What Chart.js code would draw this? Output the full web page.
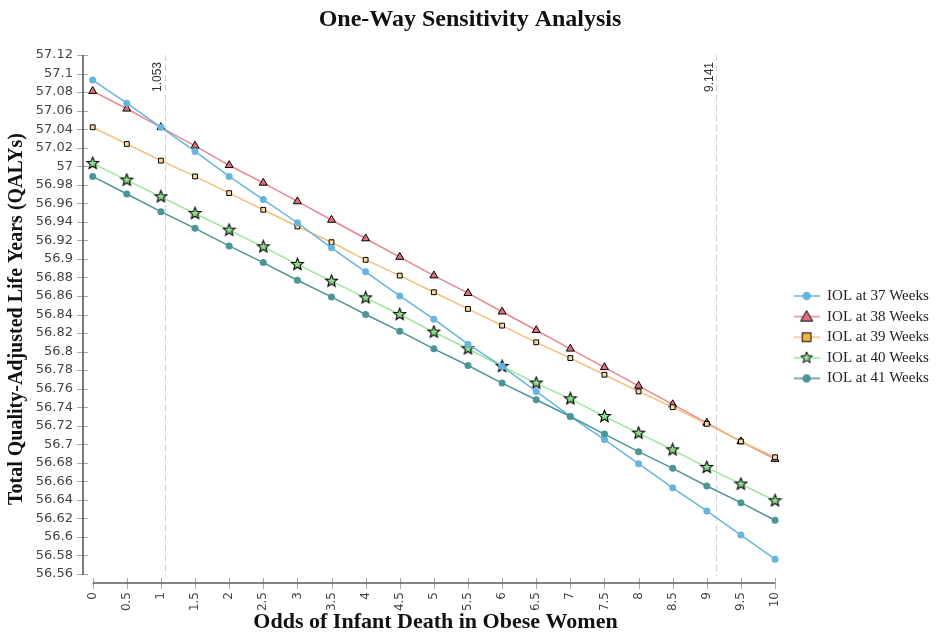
<!DOCTYPE html>
<html>
<head>
<meta charset="utf-8">
<script src="https://cdn.jsdelivr.net/npm/chart.js@4/dist/chart.umd.min.js"></script>
<style>
html,body{margin:0;padding:0;background:#fff;}
#wrap{width:940px;height:634px;position:relative;}
</style>
</head>
<body>
<div id="wrap"><canvas id="c" width="940" height="634"></canvas></div>
<script>
// ---------- DATA ----------
const xValues = [0,0.5,1,1.5,2,2.5,3,3.5,4,4.5,5,5.5,6,6.5,7,7.5,8,8.5,9,9.5,10];
const iol37 = [57.093,57.068,57.042,57.016,56.989,56.964,56.939,56.912,56.886,56.860,56.835,56.808,56.784,56.757,56.730,56.705,56.679,56.653,56.628,56.602,56.576];
const iol38 = [57.081,57.062,57.042,57.022,57.001,56.982,56.962,56.942,56.922,56.902,56.882,56.863,56.843,56.823,56.803,56.783,56.763,56.743,56.723,56.703,56.684];
const iol39 = [57.042,57.024,57.006,56.989,56.971,56.953,56.935,56.918,56.899,56.882,56.864,56.846,56.828,56.810,56.793,56.775,56.757,56.740,56.722,56.703,56.686];
const iol40 = [57.003,56.985,56.967,56.949,56.931,56.913,56.894,56.876,56.858,56.840,56.821,56.803,56.784,56.766,56.749,56.730,56.712,56.694,56.675,56.657,56.639];
const iol41 = [56.989,56.970,56.951,56.933,56.914,56.896,56.877,56.859,56.840,56.822,56.803,56.785,56.766,56.748,56.730,56.711,56.692,56.674,56.655,56.637,56.618];
const seriesNames = ['IOL at 37 Weeks','IOL at 38 Weeks','IOL at 39 Weeks','IOL at 40 Weeks','IOL at 41 Weeks'];
const xTickValues = [0,0.5,1,1.5,2,2.5,3,3.5,4,4.5,5,5.5,6,6.5,7,7.5,8,8.5,9,9.5,10];
const yTickValues = [56.56,56.58,56.6,56.62,56.64,56.66,56.68,56.7,56.72,56.74,56.76,56.78,56.8,56.82,56.84,56.86,56.88,56.9,56.92,56.94,56.96,56.98,57,57.02,57.04,57.06,57.08,57.1,57.12];
const thresholdValues = [1.053, 9.141];
const thresholdLabels = ['1.053', '9.141'];

// ---------- STYLE ----------
const C37 = '#66b5e0', C38L = '#e8878d', C38F = '#e0707a', C39L = '#f3bf78', C39F = '#f2b54a', C40L = '#9be59b', C40F = '#8fe08f', C41 = '#4b9597';

function starPath(g, cx, cy, R, r) {
  g.beginPath();
  for (let i = 0; i < 10; i++) {
    const a = -Math.PI / 2 + i * Math.PI / 5;
    const rad = (i % 2) ? r : R;
    g.lineTo(cx + rad * Math.cos(a), cy + rad * Math.sin(a));
  }
  g.closePath();
}
function makeStar(size, R, r) {
  const c = document.createElement('canvas');
  c.width = size; c.height = size;
  const g = c.getContext('2d');
  starPath(g, size / 2, size / 2, R, r);
  g.fillStyle = C40F; g.fill();
  g.strokeStyle = '#000'; g.lineWidth = 1.1; g.stroke();
  return c;
}
const starPoint = makeStar(15, 6.2, 2.7);

function makeIcon(lineColor, drawMarker) {
  const c = document.createElement('canvas');
  c.width = 26; c.height = 16;
  const g = c.getContext('2d');
  g.strokeStyle = lineColor; g.lineWidth = 1.5;
  g.beginPath(); g.moveTo(0, 8); g.lineTo(26, 8); g.stroke();
  drawMarker(g, 13, 8);
  return c;
}
const legendIcons = [
  makeIcon(C37, (g,x,y)=>{ g.beginPath(); g.arc(x,y,4.3,0,Math.PI*2); g.fillStyle=C37; g.fill(); }),
  makeIcon(C38L, (g,x,y)=>{ g.beginPath(); g.moveTo(x,y-6); g.lineTo(x+6,y+4.5); g.lineTo(x-6,y+4.5); g.closePath(); g.fillStyle=C38F; g.fill(); g.strokeStyle='#000'; g.lineWidth=1; g.stroke(); }),
  makeIcon(C39L, (g,x,y)=>{ g.fillStyle=C39F; g.fillRect(x-4.3,y-4.3,8.6,8.6); g.strokeStyle='#000'; g.lineWidth=1; g.strokeRect(x-4.3,y-4.3,8.6,8.6); }),
  makeIcon(C40L, (g,x,y)=>{ starPath(g,x,y,6,2.6); g.fillStyle=C40F; g.fill(); g.strokeStyle='#000'; g.lineWidth=1; g.stroke(); }),
  makeIcon(C41, (g,x,y)=>{ g.beginPath(); g.arc(x,y,4.3,0,Math.PI*2); g.fillStyle=C41; g.fill(); })
];

function pts(arr) { return xValues.map((x, i) => ({x: x, y: arr[i]})); }

const datasets = [
  {label: seriesNames[0], data: pts(iol37), borderColor: C37, backgroundColor: C37, pointStyle: 'circle', pointRadius: 3.5, pointBorderWidth: 0, pointBackgroundColor: C37, order: 2},
  {label: seriesNames[1], data: pts(iol38), borderColor: C38L, backgroundColor: C38F, pointStyle: 'triangle', pointRadius: 4.6, pointBorderWidth: 1, pointBorderColor: '#000', pointBackgroundColor: C38F, order: 5},
  {label: seriesNames[2], data: pts(iol39), borderColor: C39L, backgroundColor: C39F, pointStyle: 'rect', pointRadius: 3.4, pointBorderWidth: 1, pointBorderColor: '#000', pointBackgroundColor: '#f7d9a8', order: 4},
  {label: seriesNames[3], data: pts(iol40), borderColor: C40L, backgroundColor: C40F, pointStyle: starPoint, pointRadius: 6, order: 3},
  {label: seriesNames[4], data: pts(iol41), borderColor: C41, backgroundColor: C41, pointStyle: 'circle', pointRadius: 3.5, pointBorderWidth: 0, pointBackgroundColor: C41, order: 1}
];
datasets.forEach(d => { d.borderWidth = 1.5; d.fill = false; d.tension = 0; d.pointHoverRadius = d.pointRadius; });

// ---------- PLUGINS ----------
const LEGEND_W = 152;
const legendWidthPlugin = {
  id: 'legendWidth',
  afterInit(chart) {
    const lg = chart.legend;
    if (!lg) return;
    const f = lg.fit.bind(lg);
    lg.fit = function() { f(); this.width = LEGEND_W; };
  }
};

const axesPlugin = {
  id: 'd3axes',
  beforeDatasetsDraw(chart) {
    const ctx = chart.ctx, xs = chart.scales.x, ys = chart.scales.y, ca = chart.chartArea;
    const yTop = ys.getPixelForValue(yTickValues[yTickValues.length - 1]);
    const yBot = ys.getPixelForValue(yTickValues[0]);
    const x0 = xs.getPixelForValue(xTickValues[0]);
    const x1 = xs.getPixelForValue(xTickValues[xTickValues.length - 1]);
    ctx.save();
    // threshold dashed lines
    ctx.strokeStyle = '#cfcfcf'; ctx.lineWidth = 1; ctx.setLineDash([6, 4]);
    thresholdValues.forEach(v => {
      const px = Math.round(xs.getPixelForValue(v)) + 0.5;
      ctx.beginPath(); ctx.moveTo(px, ca.top); ctx.lineTo(px, yBot + 2); ctx.stroke();
    });
    ctx.setLineDash([]);
    ctx.fillStyle = '#333'; ctx.font = '12px "Liberation Sans", Arial, sans-serif';
    thresholdValues.forEach((v, i) => {
      const px = xs.getPixelForValue(v);
      ctx.save(); ctx.translate(px - 3.5, ca.top + 7); ctx.rotate(-Math.PI / 2);
      ctx.textAlign = 'right'; ctx.textBaseline = 'alphabetic';
      ctx.fillText(thresholdLabels[i], 0, 0); ctx.restore();
    });
    // tick marks
    ctx.strokeStyle = '#a8a8a8'; ctx.lineWidth = 1;
    yTickValues.forEach(v => {
      const py = Math.round(ys.getPixelForValue(v)) + 0.5;
      ctx.beginPath(); ctx.moveTo(ca.left - 6, py); ctx.lineTo(ca.left + 5, py); ctx.stroke();
    });
    xTickValues.forEach(v => {
      const px = Math.round(xs.getPixelForValue(v)) + 0.5;
      ctx.beginPath(); ctx.moveTo(px, ca.bottom - 5); ctx.lineTo(px, ca.bottom + 6); ctx.stroke();
    });
    // domain lines
    ctx.strokeStyle = '#5a5a5a'; ctx.lineWidth = 1.6;
    ctx.beginPath(); ctx.moveTo(ca.left, yTop); ctx.lineTo(ca.left, yBot + 1); ctx.stroke();
    ctx.beginPath(); ctx.moveTo(x0, ca.bottom); ctx.lineTo(x1, ca.bottom); ctx.stroke();
    ctx.restore();
  }
};

// ---------- CHART ----------
const yTickFont = {family: '"DejaVu Sans", Verdana, sans-serif', size: 13};
const xTickFont = {family: '"DejaVu Sans", Verdana, sans-serif', size: 12};
new Chart(document.getElementById('c').getContext('2d'), {
  type: 'line',
  data: {datasets: datasets},
  options: {
    responsive: false,
    animation: false,
    events: [],
    layout: {padding: 0},
    scales: {
      x: {
        type: 'linear', min: -0.142, max: 10.19,
        grid: {display: false, drawTicks: false},
        border: {display: false},
        afterBuildTicks: s => { s.ticks = xTickValues.map(v => ({value: v})); },
        afterFit: s => { s.height = 51; },
        ticks: {autoSkip: false, minRotation: 90, maxRotation: 90, padding: 9, font: xTickFont, color: '#444',
                callback: v => String(v)},
        title: {display: true, text: 'Odds of Infant Death in Obese Women', color: '#111',
                font: {family: '"Liberation Serif", "Times New Roman", serif', size: 22, weight: 'bold', lineHeight: 1.05},
                padding: {top: 0, bottom: 0}}
      },
      y: {
        type: 'linear', min: 56.5503, max: 57.12,
        grid: {display: false, drawTicks: false},
        border: {display: false},
        afterBuildTicks: s => { s.ticks = yTickValues.map(v => ({value: v})); },
        afterFit: s => { s.width = 83; },
        ticks: {autoSkip: false, padding: 10, font: yTickFont, color: '#444', callback: v => String(v)},
        title: {display: true, text: 'Total Quality-Adjusted Life Years (QALYs)', color: '#111',
                font: {family: '"Liberation Serif", "Times New Roman", serif', size: 20, weight: 'bold'},
                padding: {top: 5, bottom: 0}}
      }
    },
    plugins: {
      title: {display: true, text: 'One-Way Sensitivity Analysis', color: '#111',
              font: {family: '"Liberation Serif", "Times New Roman", serif', size: 24, weight: 'bold'},
              padding: {top: 5, bottom: 21.2}},
      legend: {
        display: true, position: 'right', align: 'center',
        title: {display: true, text: '', font: {size: 10}, padding: {top: 0, bottom: 28.4}},
        labels: {
          usePointStyle: true, pointStyleWidth: 26, padding: 5.6, color: '#222',
          font: {family: '"Liberation Serif", "Times New Roman", serif', size: 15},
          generateLabels: chart => chart.data.datasets.map((ds, i) => ({
            text: ds.label, pointStyle: legendIcons[i], fillStyle: ds.backgroundColor,
            strokeStyle: ds.borderColor, lineWidth: 0, hidden: false, datasetIndex: i, fontColor: '#222'
          }))
        }
      },
      tooltip: {enabled: false}
    }
  },
  plugins: [legendWidthPlugin, axesPlugin]
});
</script>
</body>
</html>
